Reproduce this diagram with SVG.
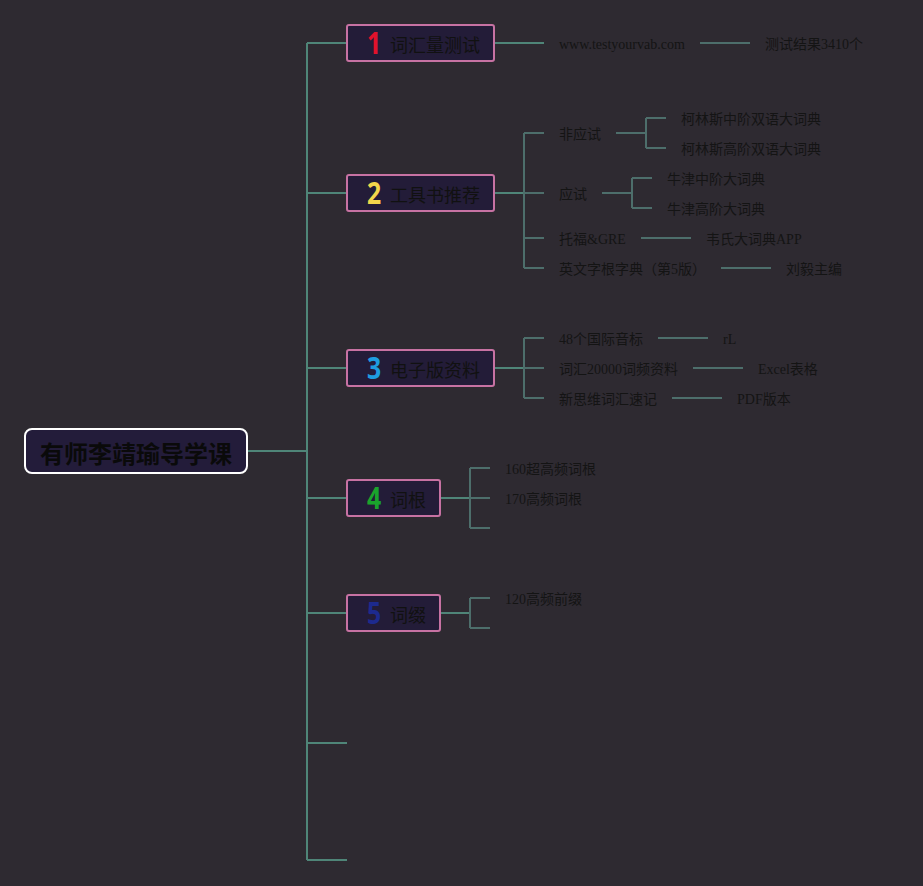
<svg xmlns="http://www.w3.org/2000/svg" width="923" height="886" viewBox="0 0 923 886">
<style>
.bg{fill:#2e2a31}
.main{stroke:#4f8578;stroke-width:2;fill:none}
.sub{stroke:#4d6e6b;stroke-width:2;fill:none}
.topic{fill:#231c38;stroke:#c772a3;stroke-width:2}
.root{fill:#231c3a;stroke:#ffffff;stroke-width:2}
.tt{font-family:"Noto Sans CJK SC","Noto Sans",sans-serif;font-size:18px;fill:#111111;dominant-baseline:central}
.num{font-family:"Noto Sans","DejaVu Sans",sans-serif;font-size:31px;font-weight:bold;dominant-baseline:central;text-anchor:middle}
.lt{font-family:"Liberation Serif","Noto Sans CJK SC",serif;font-size:14px;fill:#141414;dominant-baseline:central}
.rt{font-family:"Noto Sans CJK SC",sans-serif;font-size:24px;font-weight:bold;fill:#0a0a0a;dominant-baseline:central;text-anchor:middle}
</style>
<rect class="bg" x="0" y="0" width="923" height="886"/>
<g id="connectors">
<path class="main" d="M247 451H307M307 43V860M307 43H347M307 193H347M307 368H347M307 498H347M307 613H347M307 743H347M307 860H347"/>
<path class="main" d="M494 43H544M494 193H524M494 368H524M440 498H470M440 613H470"/>
<path class="sub" d="M700 43H750"/>
<path class="sub" d="M524 133V268M524 133H544M524 193H544M524 238H544M524 268H544"/>
<path class="sub" d="M616 133H646M646 118V148M646 118H666M646 148H666"/>
<path class="sub" d="M602 193H632M632 178V208M632 178H652M632 208H652"/>
<path class="sub" d="M641 238H691M721 268H771"/>
<path class="sub" d="M524 338V398M524 338H544M524 368H544M524 398H544"/>
<path class="sub" d="M658 338H708M693 368H743M672 398H722"/>
<path class="sub" d="M470 468V528M470 468H490M470 498H490M470 528H490"/>
<path class="sub" d="M470 598V628M470 598H490M470 628H490"/>
</g>
<g id="root">
<rect class="root" x="25" y="429" width="222" height="44" rx="7"/>
<text class="rt" x="136" y="452">有师李靖瑜导学课</text>
</g>
<g id="n1">
<rect class="topic" x="347" y="25" width="147" height="36" rx="2"/>
<text class="num" transform="translate(374 42) scale(0.8 1)" fill="#e2122c">1</text>
<text class="tt" x="390" y="44">词汇量测试</text>
</g>
<g id="n1a"><text class="lt" x="559" y="44">www.testyourvab.com</text></g>
<g id="n1b"><text class="lt" x="765" y="44">测试结果3410个</text></g>
<g id="n2">
<rect class="topic" x="347" y="175" width="147" height="36" rx="2"/>
<text class="num" transform="translate(374 192) scale(0.8 1)" fill="#f3d64b">2</text>
<text class="tt" x="390" y="194">工具书推荐</text>
</g>
<g id="n2a"><text class="lt" x="559" y="134">非应试</text></g>
<g id="n2a1"><text class="lt" x="681" y="119">柯林斯中阶双语大词典</text></g>
<g id="n2a2"><text class="lt" x="681" y="149">柯林斯高阶双语大词典</text></g>
<g id="n2b"><text class="lt" x="559" y="194">应试</text></g>
<g id="n2b1"><text class="lt" x="667" y="179">牛津中阶大词典</text></g>
<g id="n2b2"><text class="lt" x="667" y="209">牛津高阶大词典</text></g>
<g id="n2c"><text class="lt" x="559" y="239">托福&amp;GRE</text></g>
<g id="n2c1"><text class="lt" x="706" y="239">韦氏大词典APP</text></g>
<g id="n2d"><text class="lt" x="559" y="269">英文字根字典（第5版）</text></g>
<g id="n2d1"><text class="lt" x="786" y="269">刘毅主编</text></g>
<g id="n3">
<rect class="topic" x="347" y="350" width="147" height="36" rx="2"/>
<text class="num" transform="translate(374 367) scale(0.8 1)" fill="#1e9ce0">3</text>
<text class="tt" x="390" y="369">电子版资料</text>
</g>
<g id="n3a"><text class="lt" x="559" y="339">48个国际音标</text></g>
<g id="n3a1"><text class="lt" x="723" y="339">rL</text></g>
<g id="n3b"><text class="lt" x="559" y="369">词汇20000词频资料</text></g>
<g id="n3b1"><text class="lt" x="758" y="369">Excel表格</text></g>
<g id="n3c"><text class="lt" x="559" y="399">新思维词汇速记</text></g>
<g id="n3c1"><text class="lt" x="737" y="399">PDF版本</text></g>
<g id="n4">
<rect class="topic" x="347" y="480" width="93" height="36" rx="2"/>
<text class="num" transform="translate(374 497) scale(0.8 1)" fill="#1aa32c">4</text>
<text class="tt" x="390" y="499">词根</text>
</g>
<g id="n4a"><text class="lt" x="505" y="469">160超高频词根</text></g>
<g id="n4b"><text class="lt" x="505" y="499">170高频词根</text></g>
<g id="n5">
<rect class="topic" x="347" y="595" width="93" height="36" rx="2"/>
<text class="num" transform="translate(374 612) scale(0.8 1)" fill="#1d2a8e">5</text>
<text class="tt" x="390" y="614">词缀</text>
</g>
<g id="n5a"><text class="lt" x="505" y="599">120高频前缀</text></g>
</svg>
